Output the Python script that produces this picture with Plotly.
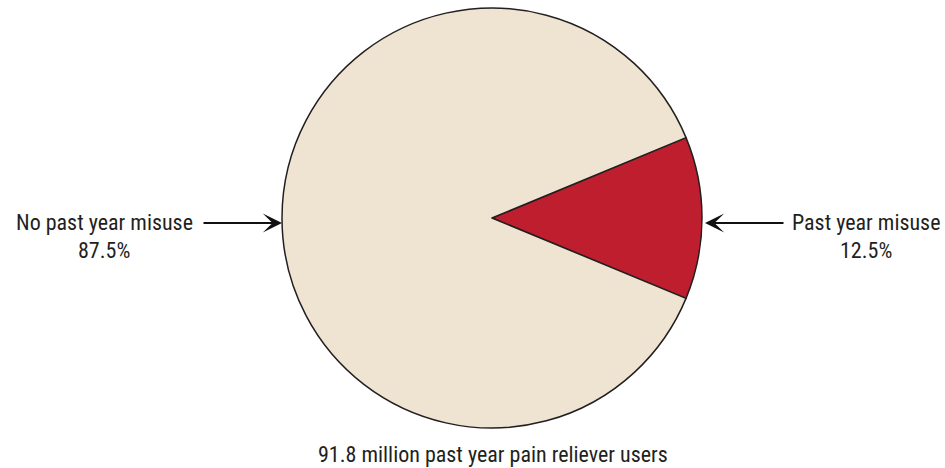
import plotly.graph_objects as go

W, H = 945, 468

labels = ["Past year misuse", "No past year misuse"]
values = [12.5, 87.5]
colors = ["#BE1E2D", "#EFE4D2"]
caption = "91.8 million past year pain reliever users"

FONT = "Roboto Condensed, Liberation Sans Narrow, sans-serif"
TXT = "#231F20"

fig = go.Figure()
fig.add_trace(go.Pie(
    labels=labels, values=values, sort=False, direction="clockwise",
    rotation=67.5,
    marker=dict(colors=colors, line=dict(color="#231F20", width=1.5)),
    textinfo="none", hoverinfo="label+percent", showlegend=False,
    domain=dict(x=[282 / W, 702 / W], y=[40 / H, 460 / H]),
))

def px(x):
    return x / W

def py(y):
    return (H - y) / H

ann = []
# left label
ann.append(dict(x=px(104), y=py(222), text=labels[1], showarrow=False,
                font=dict(size=22, color=TXT, family=FONT), xanchor="center", yanchor="middle"))
ann.append(dict(x=px(104), y=py(250), text=f"{values[1]}%", showarrow=False,
                font=dict(size=22, color=TXT, family=FONT), xanchor="center", yanchor="middle"))
# right label
ann.append(dict(x=px(866), y=py(222), text=labels[0], showarrow=False,
                font=dict(size=22, color=TXT, family=FONT), xanchor="center", yanchor="middle"))
ann.append(dict(x=px(866), y=py(250), text=f"{values[0]}%", showarrow=False,
                font=dict(size=22, color=TXT, family=FONT), xanchor="center", yanchor="middle"))
# arrows
ann.append(dict(x=px(282), y=py(223), ax=-80, ay=0, text="", showarrow=True,
                arrowhead=3, arrowsize=1.6, arrowwidth=2, arrowcolor="#111111"))
ann.append(dict(x=px(705), y=py(223), ax=80, ay=0, text="", showarrow=True,
                arrowhead=3, arrowsize=1.6, arrowwidth=2, arrowcolor="#111111"))
# caption
ann.append(dict(x=px(493), y=py(454), text=caption, showarrow=False,
                font=dict(size=22, color=TXT, family=FONT), xanchor="center", yanchor="middle"))

for a in ann:
    a.setdefault("xref", "paper")
    a.setdefault("yref", "paper")

fig.update_layout(
    width=W, height=H, margin=dict(l=0, r=0, t=0, b=0),
    paper_bgcolor="white", plot_bgcolor="white",
    annotations=ann,
)

fig.write_html("out.html")
